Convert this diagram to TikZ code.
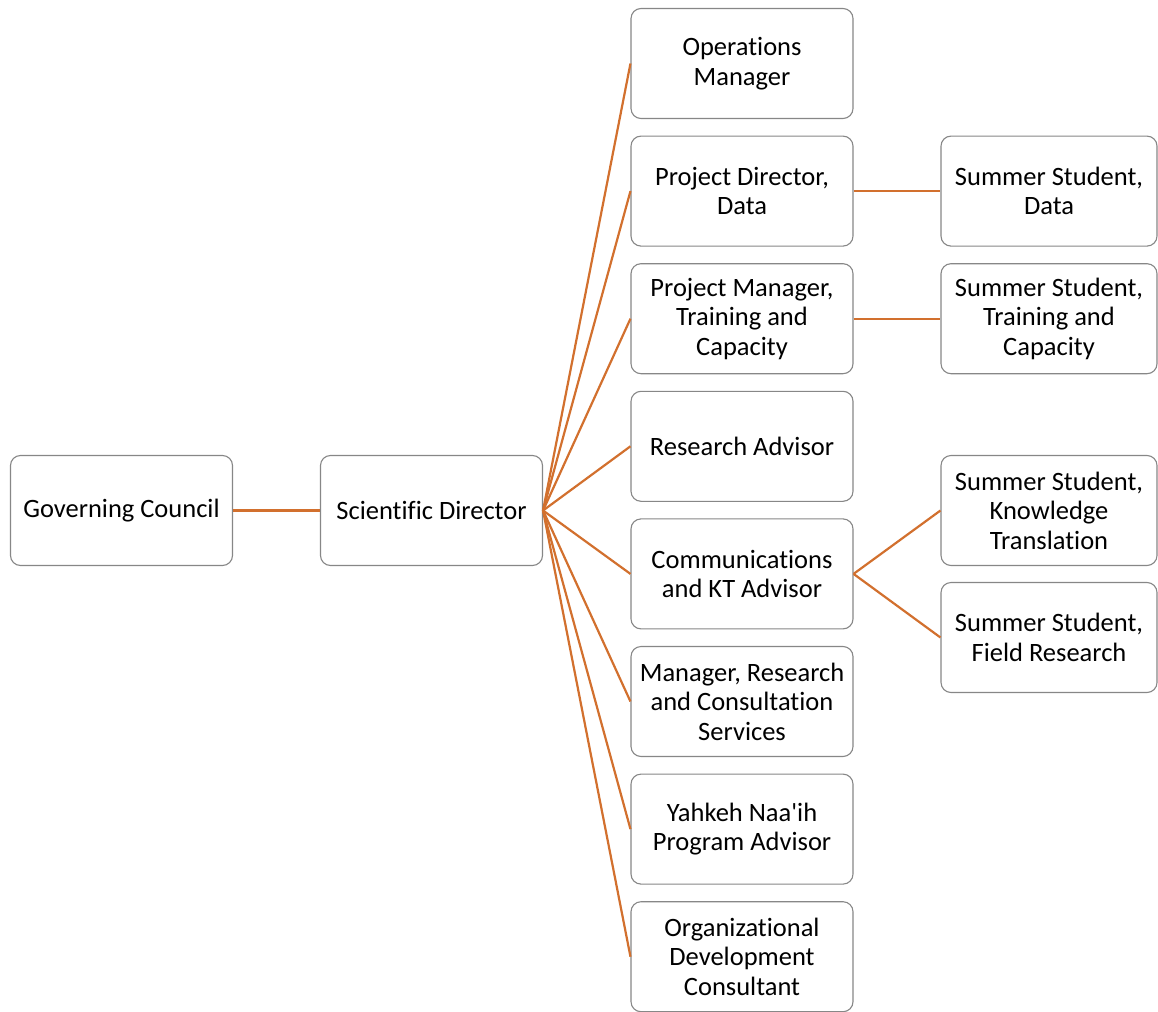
\documentclass[tikz,border=0pt]{standalone}
\usepackage{fontspec}
\setmainfont{Carlito}[Ligatures=CommonOff]
\usetikzlibrary{positioning}

\definecolor{linkorange}{RGB}{210,112,46}
\definecolor{boxgray}{RGB}{135,135,135}

\begin{document}
\begin{tikzpicture}[x=1pt,y=-1pt,on grid,node distance=127.6pt,
   role/.style={draw=boxgray,line width=1.1pt,rounded corners=10pt,fill=white,
      minimum width=222pt,minimum height=110pt,align=center,inner sep=2pt,
      font=\fontsize{26.5}{29.5}\selectfont},
   link/.style={draw=linkorange,line width=2.2pt}]
   \useasboundingbox (0,0) rectangle (1158,1011);
   \node[role] (gov) at (121.5,510.5) {Governing Council};
   \node[role] (sci) [right=310pt of gov] {Scientific Director};
   \node[role] (ops) at (742,63.5) {Operations\\Manager};
   \node[role] (pdd) [below=of ops] {Project Director,\\Data};
   \node[role] (pmt) [below=of pdd] {Project Manager,\\Training and\\Capacity};
   \node[role] (rad) [below=of pmt] {Research Advisor};
   \node[role] (com) [below=of rad] {Communications\\and KT Advisor};
   \node[role] (mrc) [below=of com] {Manager, Research\\and Consultation\\Services};
   \node[role] (yah) [below=of mrc] {Yahkeh Naa\textquotesingle ih\\Program Advisor};
   \node[role] (odc) [below=of yah] {Organizational\\Development\\Consultant};
   \node[role,minimum width=216pt] (ssd) [right=307pt of pdd] {Summer Student,\\Data};
   \node[role,minimum width=216pt] (sst) [right=307pt of pmt] {Summer Student,\\Training and\\Capacity};
   \node[role,minimum width=216pt] (ssk) at (1049,510.5) {Summer Student,\\Knowledge\\Translation};
   \node[role,minimum width=216pt] (ssf) at (1049,637.5) {Summer Student,\\Field Research};

   \draw[link] (gov) -- (sci);
   \foreach \n in {ops,pdd,pmt,rad,com,mrc,yah,odc}
      \draw[link] (sci.east) -- (\n.west);
   \draw[link] (pdd) -- (ssd);
   \draw[link] (pmt) -- (sst);
   \draw[link] (com.east) -- (ssk.west);
   \draw[link] (com.east) -- (ssf.west);
\end{tikzpicture}
\end{document}
